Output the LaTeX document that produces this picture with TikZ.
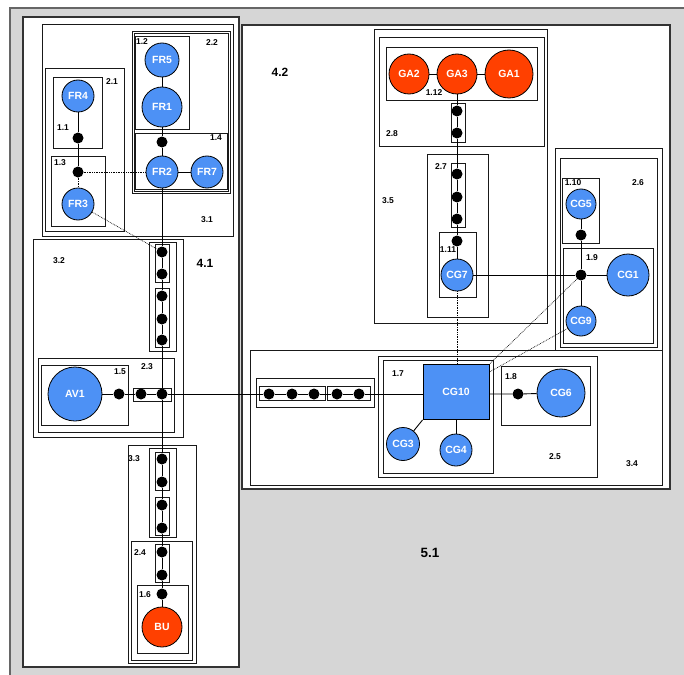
\documentclass[tikz,border=0pt]{standalone}
\usepackage{fontspec}
\setmainfont{Liberation Sans}
\definecolor{cblue}{RGB}{77,145,245}
\definecolor{corange}{RGB}{255,64,0}
\definecolor{cgray}{RGB}{214,214,214}
\begin{document}
\begin{tikzpicture}[x=1bp,y=-1bp,
  boxr/.style={draw=black!90,line width=0.8bp,fill=white},
  bigbox/.style={draw=black!80,line width=1.7bp,fill=white},
  cnode/.style={circle,draw=black,line width=0.8bp,text=white,inner sep=0pt,font=\fontsize{10.5}{12}\selectfont\bfseries},
  blnode/.style={cnode,fill=cblue,minimum size=#1},
  ornode/.style={cnode,fill=corange,minimum size=#1},
  dotnode/.style={circle,fill=black,inner sep=0pt,minimum size=11bp},
  lbl/.style={font=\fontsize{8.5}{10}\selectfont\bfseries,inner sep=0pt},
  biglbl/.style={font=\fontsize{12}{14}\selectfont\bfseries,inner sep=0pt},
  edge/.style={line width=0.9bp},
  dotl/.style={line width=0.7bp,densely dotted}]
\useasboundingbox (0,0) rectangle (684,675);
\fill[white] (0,0) rectangle (684,675);
\fill[cgray] (10,8) rectangle (684,675);
\draw[black!60,line width=1.2bp] (10,675) -- (10,8) -- (684,8);
% level 4
\draw[bigbox] (23,17) rectangle (239,667);
\draw[bigbox] (242,25) rectangle (670,489);
% 4.1 contents
\draw[boxr] (42,24) rectangle (233,236);
\draw[boxr] (132,31) rectangle (230,193);
\draw[boxr] (134,33) rectangle (228,191);
\draw[boxr] (135,36) rectangle (189,129);
\draw[boxr] (135,133) rectangle (227,189);
\draw[boxr] (45,68) rectangle (124,231);
\draw[boxr] (53,77) rectangle (102,148);
\draw[boxr] (51,156) rectangle (105,226);
\draw[boxr] (33,239) rectangle (183,437);
\draw[boxr] (149,242) rectangle (176,351);
\draw[boxr] (155,244) rectangle (169,282);
\draw[boxr] (155,288) rectangle (169,347);
\draw[boxr] (38,358) rectangle (174,432);
\draw[boxr] (41,365) rectangle (128,425);
\draw[boxr] (133,388) rectangle (171,401);
\draw[boxr] (128,445) rectangle (196,663);
\draw[boxr] (149,448) rectangle (176,537);
\draw[boxr] (155,452) rectangle (169,490);
\draw[boxr] (155,497) rectangle (169,535);
\draw[boxr] (131,541) rectangle (192,660);
\draw[boxr] (155,544) rectangle (169,582);
\draw[boxr] (137,585) rectangle (188,653);
% 4.2 contents
\draw[boxr] (374,29) rectangle (547,323);
\draw[boxr] (379,37) rectangle (544,146);
\draw[boxr] (386,47) rectangle (537,100);
\draw[boxr] (451,103) rectangle (465,142);
\draw[boxr] (427,154) rectangle (488,317);
\draw[boxr] (451,163) rectangle (465,227);
\draw[boxr] (439,232) rectangle (476,297);
\draw[boxr] (555,148) rectangle (662,350);
\draw[boxr] (560,158) rectangle (657,347);
\draw[boxr] (562,178) rectangle (599,243);
\draw[boxr] (563,248) rectangle (653,343);
\draw[boxr] (250,350) rectangle (662,485);
\draw[boxr] (256,378) rectangle (374,407);
\draw[boxr] (259,386) rectangle (325,400);
\draw[boxr] (327,386) rectangle (370,400);
\draw[boxr] (378,356) rectangle (597,477);
\draw[boxr] (383,360) rectangle (493,473);
\draw[boxr] (501,366) rectangle (590,425);
% labels
\node[lbl] (l11) at (63,128) {1.1};
\node[lbl] (l12) at (142,42) {1.2};
\node[lbl] (l13) at (60,163) {1.3};
\node[lbl] (l14) at (216,138) {1.4};
\node[lbl] (l15) at (120,372) {1.5};
\node[lbl] (l16) at (145,595) {1.6};
\node[lbl] (l17) at (398,374) {1.7};
\node[lbl] (l18) at (511,377) {1.8};
\node[lbl] (l19) at (592,258) {1.9};
\node[lbl] (l110) at (573,183) {1.10};
\node[lbl] (l111) at (448,250) {1.11};
\node[lbl] (l112) at (434,93) {1.12};
\node[lbl] (l21) at (112,82) {2.1};
\node[lbl] (l22) at (212,43) {2.2};
\node[lbl] (l23) at (147,367) {2.3};
\node[lbl] (l24) at (140,553) {2.4};
\node[lbl] (l25) at (555,457) {2.5};
\node[lbl] (l26) at (638,183) {2.6};
\node[lbl] (l27) at (441,167) {2.7};
\node[lbl] (l28) at (392,134) {2.8};
\node[lbl] (l31) at (207,220) {3.1};
\node[lbl] (l32) at (59,261) {3.2};
\node[lbl] (l33) at (134,459) {3.3};
\node[lbl] (l34) at (632,464) {3.4};
\node[lbl] (l35) at (388,201) {3.5};
\node[biglbl] (l41) at (205,263) {4.1};
\node[biglbl] (l42) at (280,72) {4.2};
\node[biglbl,font=\fontsize{13.5}{15}\selectfont\bfseries] (l51) at (430,553) {5.1};
% nodes 4.1
\node[blnode=34bp] (FR5) at (162,60) {FR5};
\node[blnode=40bp] (FR1) at (162,107) {FR1};
\node[dotnode] (d14) at (162,142) {};
\node[blnode=32bp] (FR2) at (162,172) {FR2};
\node[blnode=32bp] (FR7) at (207,172) {FR7};
\node[blnode=32bp] (FR4) at (78,96) {FR4};
\node[dotnode] (d11) at (78,138) {};
\node[dotnode] (d13) at (78,172) {};
\node[blnode=32bp] (FR3) at (78,204) {FR3};
\node[dotnode] (s1) at (162,252) {};
\node[dotnode] (s2) at (162,274) {};
\node[dotnode] (s3) at (162,296) {};
\node[dotnode] (s4) at (162,319) {};
\node[dotnode] (s5) at (162,340) {};
\node[blnode=54bp] (AV1) at (75,394) {AV1};
\node[dotnode] (d15) at (119,394) {};
\node[dotnode] (d23a) at (141,394) {};
\node[dotnode] (d23b) at (162,394) {};
\node[dotnode] (t1) at (162,459) {};
\node[dotnode] (t2) at (162,482) {};
\node[dotnode] (t3) at (162,505) {};
\node[dotnode] (t4) at (162,528) {};
\node[dotnode] (u1) at (162,552) {};
\node[dotnode] (u2) at (162,575) {};
\node[dotnode] (d16) at (162,594) {};
\node[ornode=40bp] (BU) at (162,627) {BU};
% nodes 4.2
\node[ornode=40bp] (GA2) at (409,74) {GA2};
\node[ornode=40bp] (GA3) at (457,74) {GA3};
\node[ornode=48bp] (GA1) at (509,74) {GA1};
\node[dotnode] (g1) at (457,111) {};
\node[dotnode] (g2) at (457,133) {};
\node[dotnode] (h1) at (457,174) {};
\node[dotnode] (h2) at (457,197) {};
\node[dotnode] (h3) at (457,219) {};
\node[dotnode] (d111) at (457,241) {};
\node[blnode=32bp] (CG7) at (457,275) {CG7};
\node[blnode=30bp] (CG5) at (581,204) {CG5};
\node[dotnode] (d110) at (581,235) {};
\node[dotnode] (d19) at (581,275) {};
\node[blnode=42bp] (CG1) at (628,275) {CG1};
\node[blnode=30bp] (CG9) at (581,321) {CG9};
\node[dotnode] (c1) at (269,394) {};
\node[dotnode] (c2) at (292,394) {};
\node[dotnode] (c3) at (314,394) {};
\node[dotnode] (c4) at (337,394) {};
\node[dotnode] (c5) at (359,394) {};
\node[rectangle,draw=black,line width=0.8bp,fill=cblue,text=white,inner sep=0pt,minimum width=66bp,minimum height=55bp,font=\fontsize{10.5}{12}\selectfont\bfseries] (CG10) at (456,392) {CG10};
\node[dotnode] (d18) at (518,394) {};
\node[blnode=48bp] (CG6) at (561,393) {CG6};
\node[blnode=33bp] (CG3) at (403,444) {CG3};
\node[blnode=32bp] (CG4) at (456,450) {CG4};
% solid edges
\draw[edge] (FR5) -- (FR1) -- (d14) -- (FR2) -- (FR7);
\draw[edge] (FR4) -- (d11) -- (d13);
\draw[edge] (FR2) -- (s1) -- (s2) -- (s3) -- (s4) -- (s5) -- (d23b) -- (t1) -- (t2) -- (t3) -- (t4) -- (u1) -- (u2) -- (d16) -- (BU);
\draw[edge] (AV1) -- (d15) -- (d23a) -- (d23b) -- (c1) -- (c2) -- (c3) -- (c4) -- (c5) -- (c5 -| CG10.west);
\draw[edge] (GA2) -- (GA3) -- (GA1);
\draw[edge] (GA3) -- (g1) -- (g2) -- (h1) -- (h2) -- (h3) -- (d111) -- (CG7);
\draw[edge] (CG7) -- (d19) -- (CG1);
\draw[edge] (CG5) -- (d110) -- (d19) -- (CG9);
\draw[edge] (d18 -| CG10.east) -- (d18) -- (CG6);
\draw[edge] (CG10.south west) -- (CG3);
\draw[edge] (CG10) -- (CG4);
% dotted edges
\draw[dotl] (d13) -- (FR2);
\draw[dotl] (d13) -- (FR3);
\draw[dotl] (FR3) -- (s1);
\draw[dotl] (CG7) -- (CG7 |- CG10.north);
\draw[dotl] (d19) -- (CG10.north east);
\draw[dotl] (CG9) -- ([yshift=20bp]CG10.east);
\end{tikzpicture}
\end{document}
